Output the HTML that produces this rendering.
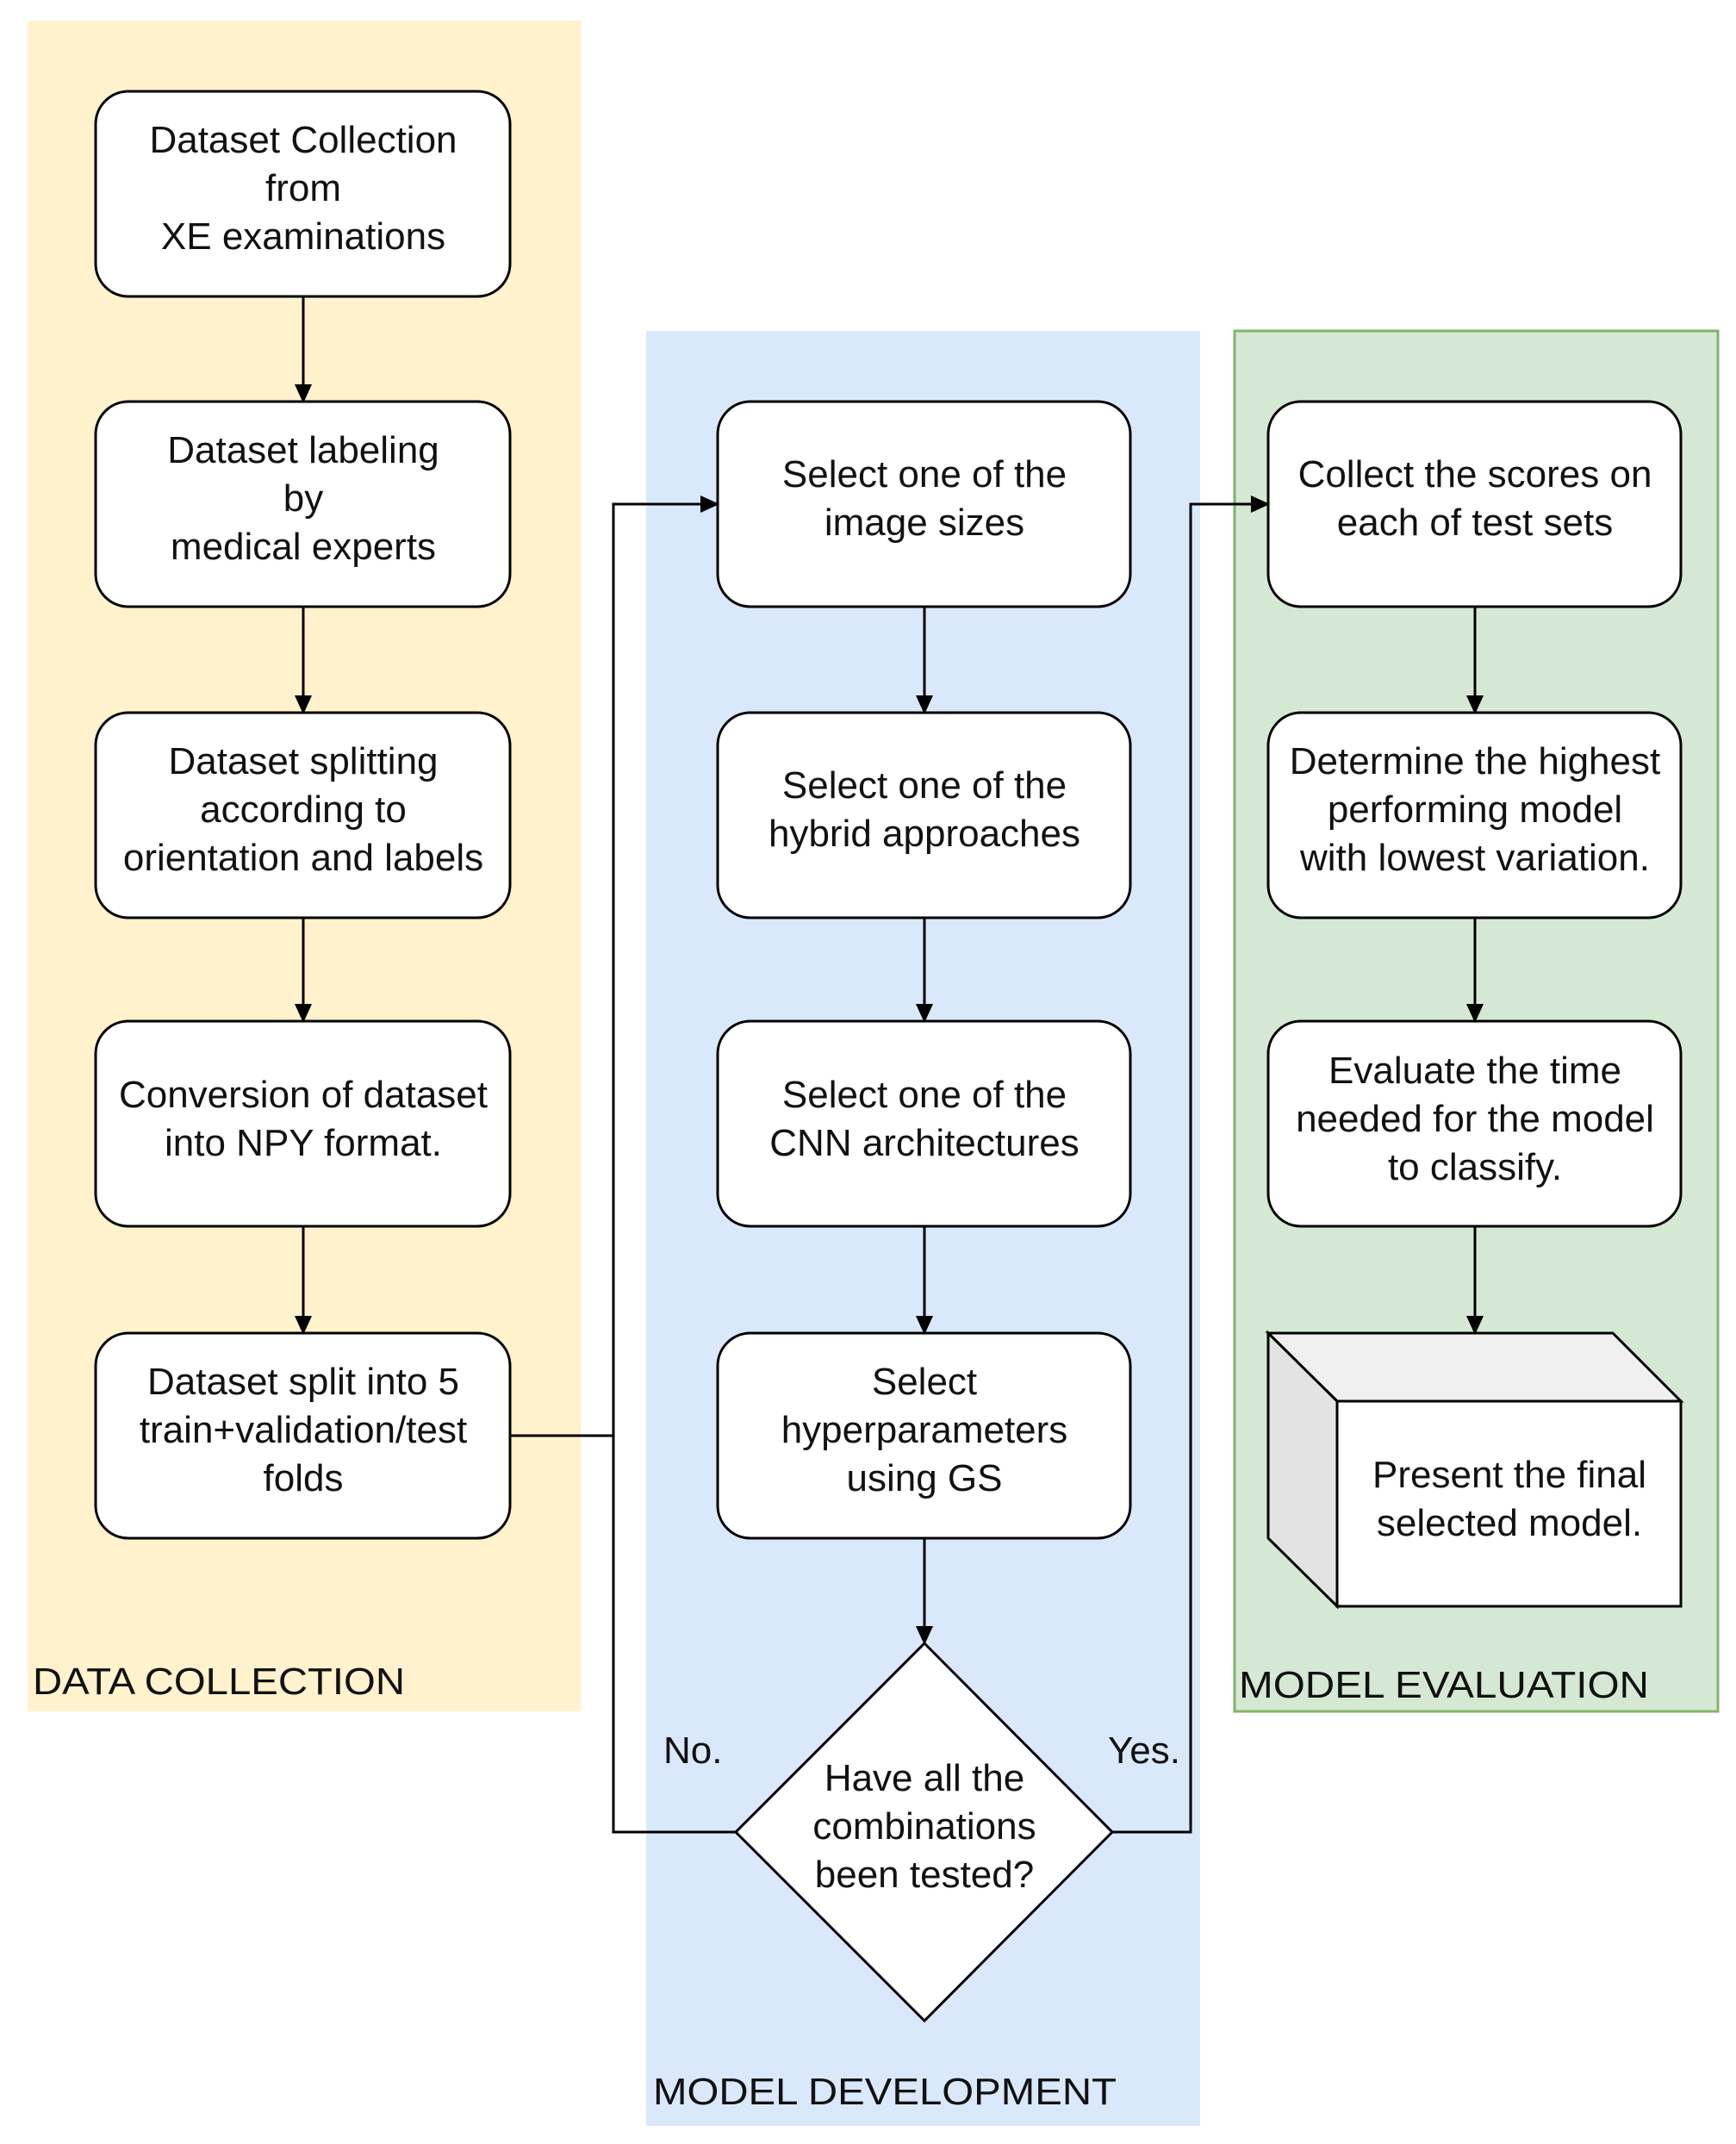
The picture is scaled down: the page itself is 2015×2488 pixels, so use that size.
<!DOCTYPE html>
<html><head><meta charset="utf-8"><style>
html,body{margin:0;padding:0;background:#fff;}
svg{display:block;}
</style></head><body>
<svg width="2015" height="2488" viewBox="0 0 2015 2488" xmlns="http://www.w3.org/2000/svg" font-family="'Liberation Sans', Arial, Helvetica, sans-serif" font-size="44">
<rect x="32" y="24" width="642" height="1962" fill="#fff2cc"/>
<rect x="750" y="384" width="643" height="2083" fill="#dae8fc"/>
<rect x="1433" y="384" width="561" height="1602" fill="#d5e8d4" stroke="#82b366" stroke-width="3"/>

<g fill="#fff" stroke="#000" stroke-width="3">
<rect x="111" y="106" width="481" height="238" rx="38"/>
<rect x="111" y="466" width="481" height="238" rx="38"/>
<rect x="111" y="827" width="481" height="238" rx="38"/>
<rect x="111" y="1185" width="481" height="238" rx="38"/>
<rect x="111" y="1547" width="481" height="238" rx="38"/>
<rect x="833" y="466" width="479" height="238" rx="38"/>
<rect x="833" y="827" width="479" height="238" rx="38"/>
<rect x="833" y="1185" width="479" height="238" rx="38"/>
<rect x="833" y="1547" width="479" height="238" rx="38"/>
<rect x="1472" y="466" width="479" height="238" rx="38"/>
<rect x="1472" y="827" width="479" height="238" rx="38"/>
<rect x="1472" y="1185" width="479" height="238" rx="38"/>
<polygon points="1073,1907 1291,2126 1073,2345 854,2126"/>
</g>
<polygon points="1472,1547 1872,1547 1951,1626 1552,1626" fill="#f0f0f0" stroke="#000" stroke-width="3"/>
<polygon points="1472,1547 1552,1626 1552,1864 1472,1785" fill="#e3e3e3" stroke="#000" stroke-width="3"/>
<rect x="1552" y="1626" width="399" height="238" fill="#fff" stroke="#000" stroke-width="3"/>

<g stroke="#000" stroke-width="3" fill="none">
<line x1="352" y1="344" x2="352" y2="448"/>
<line x1="352" y1="704" x2="352" y2="809"/>
<line x1="352" y1="1065" x2="352" y2="1167"/>
<line x1="352" y1="1423" x2="352" y2="1529"/>
<line x1="1073" y1="704" x2="1073" y2="809"/>
<line x1="1073" y1="1065" x2="1073" y2="1167"/>
<line x1="1073" y1="1423" x2="1073" y2="1529"/>
<line x1="1073" y1="1785" x2="1073" y2="1889"/>
<line x1="1712" y1="704" x2="1712" y2="809"/>
<line x1="1712" y1="1065" x2="1712" y2="1167"/>
<line x1="1712" y1="1423" x2="1712" y2="1529"/>
<polyline points="592,1666 712,1666 712,585 815,585"/>
<polyline points="854,2126 712,2126 712,1666"/>
<polyline points="1291,2126 1382,2126 1382,585 1454,585"/>
</g>
<g fill="#000">
<polygon points="342,446 362,446 352,468"/>
<polygon points="342,807 362,807 352,829"/>
<polygon points="342,1165 362,1165 352,1187"/>
<polygon points="342,1527 362,1527 352,1549"/>
<polygon points="1063,807 1083,807 1073,829"/>
<polygon points="1063,1165 1083,1165 1073,1187"/>
<polygon points="1063,1527 1083,1527 1073,1549"/>
<polygon points="1063,1887 1083,1887 1073,1909"/>
<polygon points="1702,807 1722,807 1712,829"/>
<polygon points="1702,1165 1722,1165 1712,1187"/>
<polygon points="1702,1527 1722,1527 1712,1549"/>
<polygon points="813,575 813,595 835,585"/>
<polygon points="1452,575 1452,595 1474,585"/>
</g>

<g text-anchor="middle" fill="#111">
<text x="352" y="177">Dataset Collection</text>
<text x="352" y="233">from</text>
<text x="352" y="289">XE examinations</text>
<text x="352" y="537">Dataset labeling</text>
<text x="352" y="593">by</text>
<text x="352" y="649">medical experts</text>
<text x="352" y="898">Dataset splitting</text>
<text x="352" y="954">according to</text>
<text x="352" y="1010">orientation and labels</text>
<text x="352" y="1285">Conversion of dataset</text>
<text x="352" y="1341">into NPY format.</text>
<text x="352" y="1618">Dataset split into 5</text>
<text x="352" y="1674">train+validation/test</text>
<text x="352" y="1730">folds</text>

<text x="1073" y="565">Select one of the</text>
<text x="1073" y="621">image sizes</text>
<text x="1073" y="926">Select one of the</text>
<text x="1073" y="982">hybrid approaches</text>
<text x="1073" y="1285">Select one of the</text>
<text x="1073" y="1341">CNN architectures</text>
<text x="1073" y="1618">Select</text>
<text x="1073" y="1674">hyperparameters</text>
<text x="1073" y="1730">using GS</text>
<text x="1073" y="2078">Have all the</text>
<text x="1073" y="2134">combinations</text>
<text x="1073" y="2190">been tested?</text>

<text x="1712" y="565">Collect the scores on</text>
<text x="1712" y="621">each of test sets</text>
<text x="1712" y="898">Determine the highest</text>
<text x="1712" y="954">performing model</text>
<text x="1712" y="1010">with lowest variation.</text>
<text x="1712" y="1257">Evaluate the time</text>
<text x="1712" y="1313">needed for the model</text>
<text x="1712" y="1369">to classify.</text>
<text x="1752" y="1726">Present the final</text>
<text x="1752" y="1782">selected model.</text>
</g>
<g fill="#111">
<text x="770" y="2046">No.</text>
<text x="1286" y="2046">Yes.</text>
<text x="38" y="1966" textLength="432" lengthAdjust="spacingAndGlyphs">DATA COLLECTION</text>
<text x="758" y="2442" textLength="538" lengthAdjust="spacingAndGlyphs">MODEL DEVELOPMENT</text>
<text x="1438" y="1970" textLength="476" lengthAdjust="spacingAndGlyphs">MODEL EVALUATION</text>
</g>
</svg>
</body></html>
